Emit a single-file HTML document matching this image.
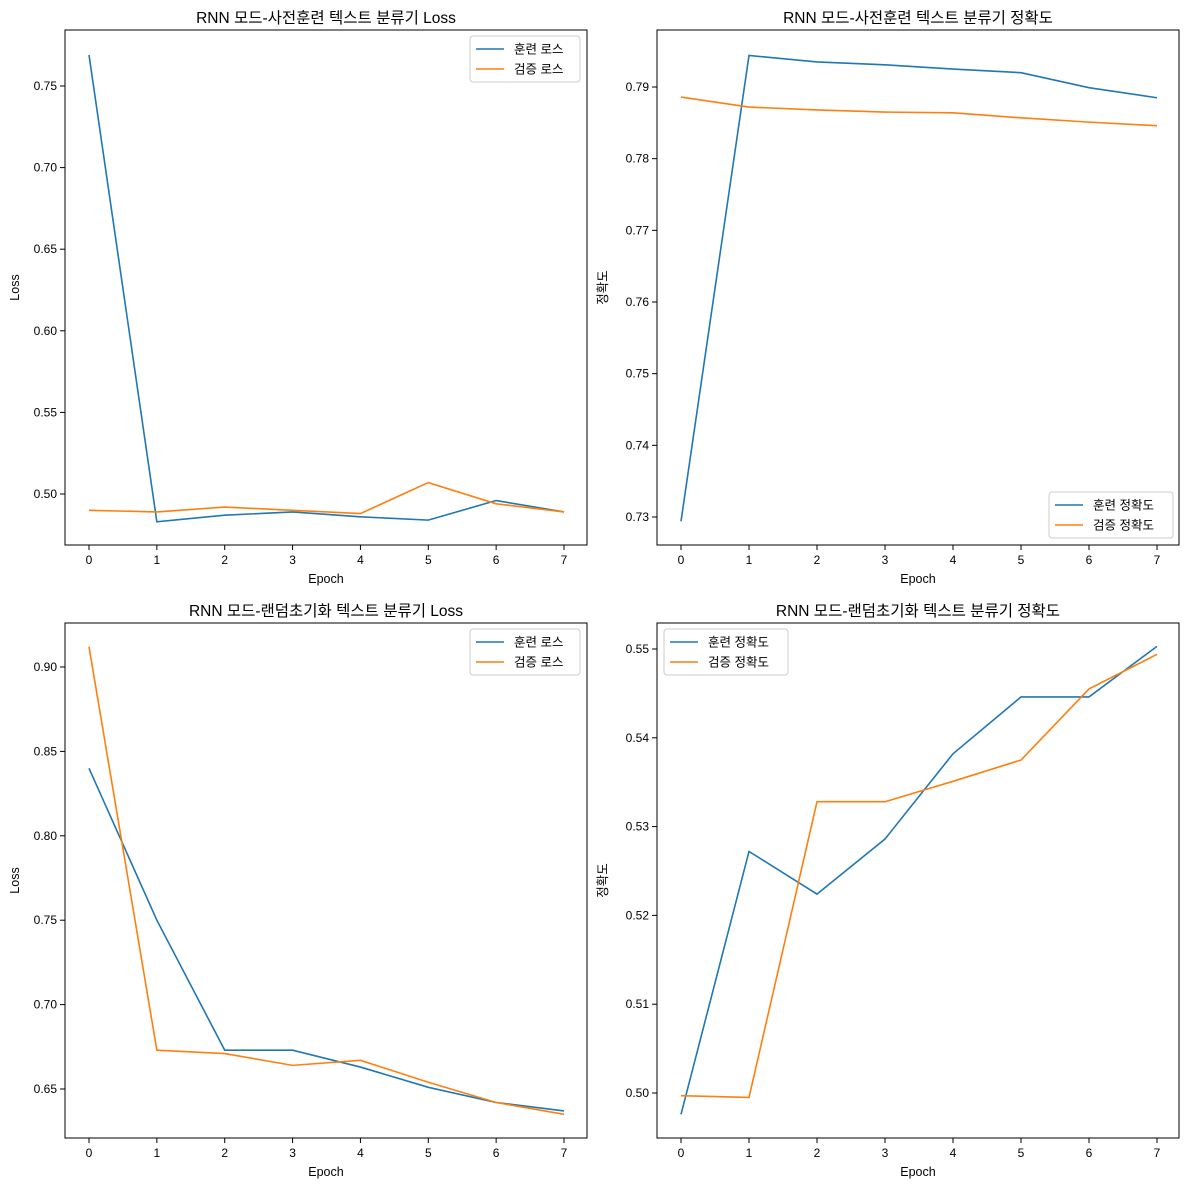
<!DOCTYPE html>
<html><head><meta charset="utf-8"><style>
body{margin:0;background:#fff;}
svg{display:block;font-family:"Liberation Sans","Noto Sans CJK KR",sans-serif;}
</style></head><body>
<svg id="c" width="1189" height="1189"></svg>
<script>
const epochs=[0,1,2,3,4,5,6,7];
const tlTrain=[0.769,0.483,0.487,0.489,0.486,0.484,0.496,0.489];
const tlVal=[0.490,0.489,0.492,0.490,0.488,0.507,0.494,0.489];
const trTrain=[0.7294,0.7944,0.7935,0.7931,0.7925,0.7920,0.7899,0.7885];
const trVal=[0.7886,0.7872,0.7868,0.7865,0.7864,0.7857,0.7851,0.7846];
const blTrain=[0.840,0.750,0.673,0.673,0.663,0.651,0.642,0.637];
const blVal=[0.912,0.673,0.671,0.664,0.667,0.654,0.642,0.635];
const brTrain=[0.4976,0.5272,0.5224,0.5286,0.5382,0.5446,0.5446,0.5503];
const brVal=[0.4997,0.4995,0.5328,0.5328,0.5351,0.5375,0.5455,0.5494];
const tlTicks=[0.50,0.55,0.60,0.65,0.70,0.75];
const trTicks=[0.73,0.74,0.75,0.76,0.77,0.78,0.79];
const blTicks=[0.65,0.70,0.75,0.80,0.85,0.90];
const brTicks=[0.50,0.51,0.52,0.53,0.54,0.55];
const NS='http://www.w3.org/2000/svg';
const svg=document.getElementById('c');
function mk(t,a,p){const e=document.createElementNS(NS,t);for(const k in a)e.setAttribute(k,a[k]);(p||svg).appendChild(e);return e;}
function panel(o){
 const g=mk('g',{});
 
 
 const X=v=>o.x0+(v-0)*(o.x7-o.x0)/7;
 const Y=v=>o.ya+(v-o.va)*(o.yb-o.ya)/(o.vb-o.va);
 const t=mk('text',{x:(o.L+o.R)/2,y:o.T-7,'text-anchor':'middle','font-size':15.5,fill:'#000'},g);t.textContent=o.title;
 
 epochs.forEach(e=>{const x=X(e);mk('line',{x1:x,x2:x,y1:o.B,y2:o.B+5,stroke:'#000'},g);
  const l=mk('text',{x:x,y:o.B+19,'text-anchor':'middle','font-size':12},g);l.textContent=e;
  });
 o.ticks.forEach(v=>{const y=Y(v);mk('line',{x1:o.L-5,x2:o.L,y1:y,y2:y,stroke:'#000'},g);
  const l=mk('text',{x:o.L-8,y:y+4,'text-anchor':'end','font-size':12},g);l.textContent=v.toFixed(o.dec);
  });
 const xl=mk('text',{x:(o.L+o.R)/2,y:o.B+38,'text-anchor':'middle','font-size':12.5},g);xl.textContent='Epoch';
 
 const yx=o.L-ofs(o), yy=(o.T+o.B)/2;
 const yl=mk('text',{x:yx,y:yy,'text-anchor':'middle','font-size':12.5,transform:`rotate(-90 ${yx} ${yy})`},g);yl.textContent=o.ylab;
 
 [[o.train,'#1f77b4','train-line'],[o.val,'#ff7f0e','val-line']].forEach(([d,c,n])=>{
  const p=mk('polyline',{points:d.map((v,i)=>X(epochs[i])+','+Y(v)).join(' '),fill:'none',stroke:c,'stroke-width':1.6},g);
  });
 mk('rect',{x:o.L,y:o.T,width:o.R-o.L,height:o.B-o.T,fill:'none',stroke:'#000','stroke-width':1},g);
 const lg=mk('g',{},g);
 const lw=o.lw,lh=46;mk('rect',{x:o.lx,y:o.ly,width:lw,height:lh,rx:3,fill:'#fff',stroke:'#ccc'},lg);
 o.labs.forEach((s,i)=>{const y=o.ly+13+i*20;mk('line',{x1:o.lx+6,x2:o.lx+34,y1:y,y2:y,stroke:i?'#ff7f0e':'#1f77b4','stroke-width':1.6},lg);
  const tt=mk('text',{x:o.lx+44,y:y+4.5,'font-size':12.5},lg);tt.textContent=s;
  });
}
function ofs(o){return o.ylab==='Loss'?46:50;}
panel({name:'loss-pretrained-panel',L:65,R:587,T:30,B:545,x0:89,x7:564,ya:494,va:0.50,yb:86,vb:0.75,dec:2,ticks:tlTicks,
 title:'RNN 모드-사전훈련 텍스트 분류기 Loss',ylab:'Loss',train:tlTrain,val:tlVal,labs:['훈련 로스','검증 로스'],lx:470,ly:36,lw:110});
panel({name:'acc-pretrained-panel',L:657,R:1179,T:30,B:545,x0:681,x7:1157,ya:517,va:0.73,yb:87,vb:0.79,dec:2,ticks:trTicks,
 title:'RNN 모드-사전훈련 텍스트 분류기 정확도',ylab:'정확도',train:trTrain,val:trVal,labs:['훈련 정확도','검증 정확도'],lx:1049,ly:492,lw:124});
panel({name:'loss-random-panel',L:65,R:587,T:623,B:1138,x0:89,x7:564,ya:1089,va:0.65,yb:667,vb:0.90,dec:2,ticks:blTicks,
 title:'RNN 모드-랜덤초기화 텍스트 분류기 Loss',ylab:'Loss',train:blTrain,val:blVal,labs:['훈련 로스','검증 로스'],lx:470,ly:629,lw:110});
panel({name:'acc-random-panel',L:657,R:1179,T:623,B:1138,x0:681,x7:1157,ya:1093,va:0.50,yb:649,vb:0.55,dec:2,ticks:brTicks,
 title:'RNN 모드-랜덤초기화 텍스트 분류기 정확도',ylab:'정확도',train:brTrain,val:brVal,labs:['훈련 정확도','검증 정확도'],lx:664,ly:629,lw:124});
</script>
</body></html>
